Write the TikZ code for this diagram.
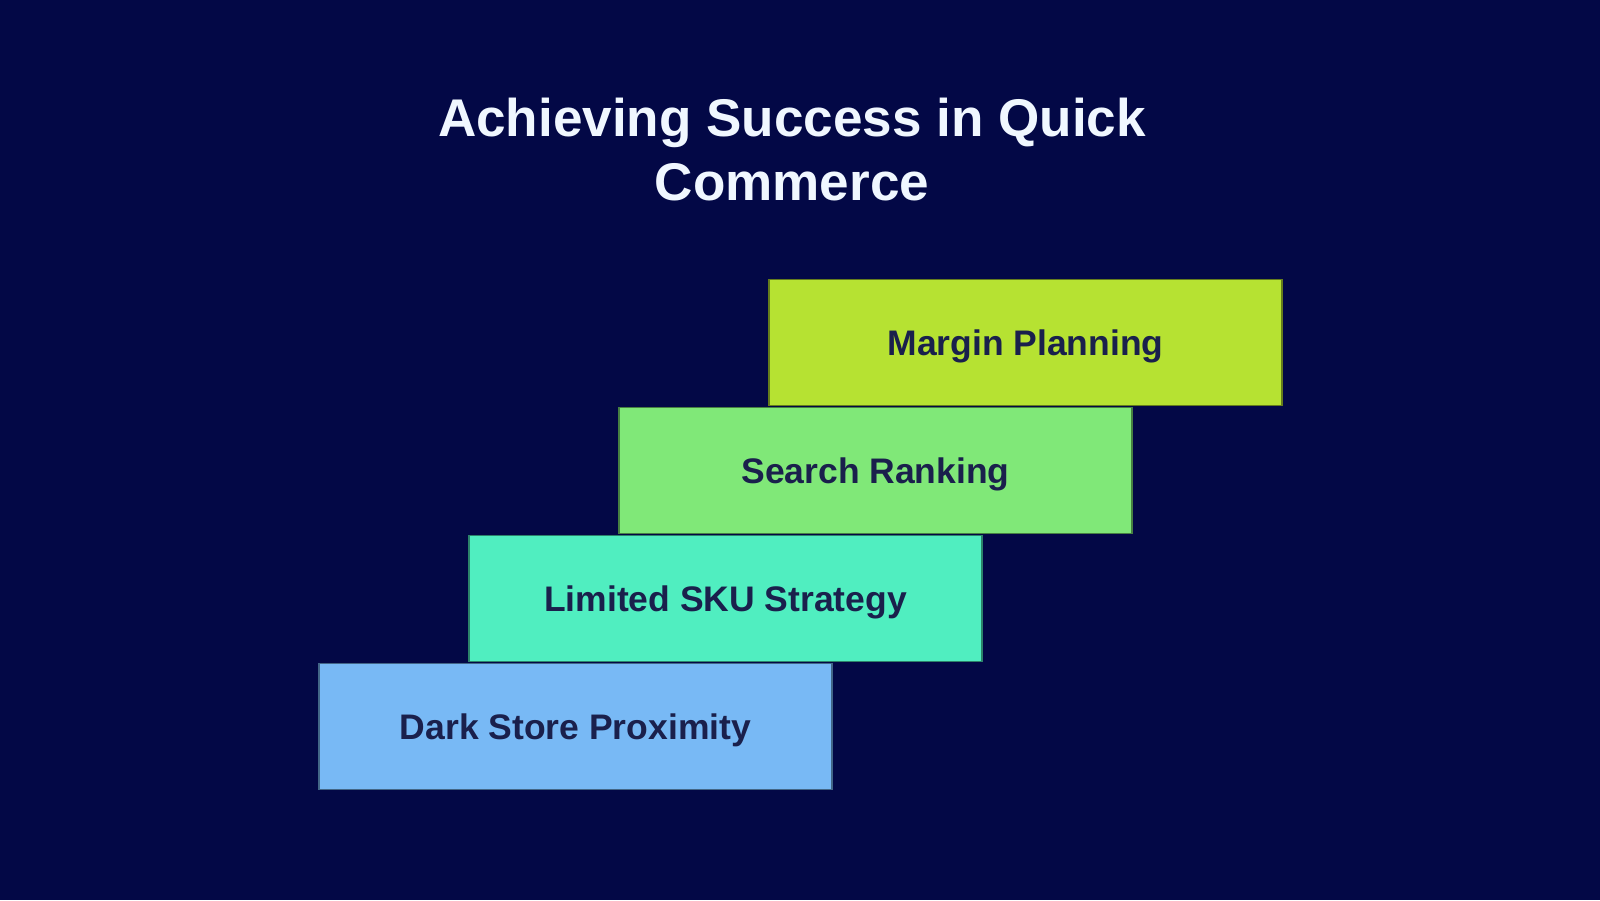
\documentclass[tikz,border=0pt]{standalone}
\usepackage{fontspec}
\setmainfont{Liberation Sans}
\usepackage{xcolor}
\usetikzlibrary{positioning}
\definecolor{bgnavy}{RGB}{3, 8, 70}
\definecolor{titlewhite}{RGB}{240, 247, 255}
\definecolor{labelnavy}{RGB}{26, 32, 76}
\definecolor{proximityblue}{RGB}{120, 185, 245}
\definecolor{skuteal}{RGB}{80, 238, 192}
\definecolor{rankgreen}{RGB}{128, 232, 120}
\definecolor{marginlime}{RGB}{182, 226, 50}

\begin{document}
\begin{tikzpicture}[
    node distance=1.28cm,
    every node/.style={align=center},
    stepbox/.style={rectangle, minimum width=5.13cm, minimum height=1.26cm, text centered, text height=0.73em, text depth=0pt, fill=#1, draw=#1!55!black, line width=0.5pt, text=labelnavy, font=\fontsize{10.1pt}{12pt}\selectfont\bfseries},
    heading/.style={text=titlewhite, font=\fontsize{15.1pt}{18.2pt}\selectfont\bfseries}
]

% Background
\fill[bgnavy] (0,0) rectangle (16,9);
\useasboundingbox (0,0) rectangle (16,9);

% Title
\node[heading] (title) at (7.92,7.5) {Achieving Success in Quick\\Commerce};

% Steps
\node[stepbox=proximityblue] (proximity) at (5.755,1.735) {Dark Store Proximity};
\node[stepbox=skuteal, above of=proximity, xshift=1.5cm] (sku) {Limited SKU Strategy};
\node[stepbox=rankgreen, above of=sku, xshift=1.5cm] (ranking) {Search Ranking};
\node[stepbox=marginlime, above of=ranking, xshift=1.5cm] (margin) {Margin Planning};

\end{tikzpicture}
\end{document}
